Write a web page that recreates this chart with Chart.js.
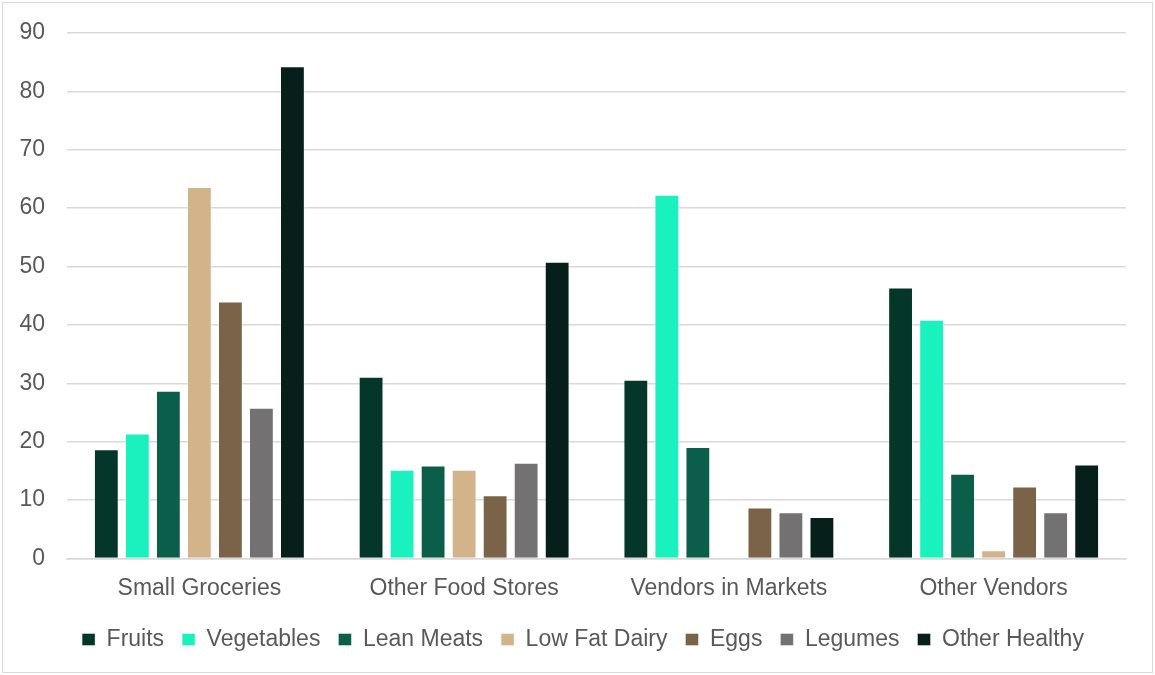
<!DOCTYPE html>
<html>
<head>
<meta charset="utf-8">
<script src="https://cdn.jsdelivr.net/npm/chart.js@4/dist/chart.umd.min.js"></script>
<style>
    html, body { margin: 0; padding: 0; background: #fff; }
    #wrap {
        position: absolute;
        left: 2px;
        top: 2px;
        width: 1151px;
        height: 671px;
        border: 1px solid #d9d9d9;
        box-sizing: border-box;
    }
    #chart { display: block; }
</style>
</head>
<body>
<div id="wrap"><canvas id="chart" width="1149" height="669"></canvas></div>
<script>
// categories and series
const categories = ["Small Groceries", "Other Food Stores", "Vendors in Markets", "Other Vendors"];
const seriesNames = ["Fruits", "Vegetables", "Lean Meats", "Low Fat Dairy", "Eggs", "Legumes", "Other Healthy"];

const fruits = [18.7, 31.1, 30.6, 46.4];
const vegetables = [21.4, 15.2, 62.3, 40.9];
const leanMeats = [28.7, 15.9, 19.1, 14.5];
const lowFatDairy = [63.6, 15.2, 0, 1.4];
const eggs = [44.0, 10.8, 8.7, 12.3];
const legumes = [25.8, 16.4, 7.9, 7.9];
const otherHealthy = [84.3, 50.8, 7.1, 16.1];

const yTicks = [0, 10, 20, 30, 40, 50, 60, 70, 80, 90];

const colors = ["#04362a", "#19f2bf", "#0b5e4a", "#d2b38a", "#7b634a", "#737172", "#061f1b"];
const values = [fruits, vegetables, leanMeats, lowFatDairy, eggs, legumes, otherHealthy];

const FONT = "'Liberation Sans', Arial, sans-serif";
const TEXT = "#595959";

const datasets = seriesNames.map((name, i) => ({
    label: name,
    data: values[i],
    backgroundColor: colors[i],
    borderColor: "rgba(255,255,255,0.4)",
    borderWidth: 1,
    categoryPercentage: 0.82,
    barPercentage: 0.8
}));

// the legend sits a little right of the canvas centre in the picture
const legendShift = {
    id: "legendShift",
    afterLayout(chart) {
        if (!chart.legend) return;
        chart.legend.left += 10;
        chart.legend.right += 10;
    }
};

new Chart(document.getElementById("chart"), {
    type: "bar",
    data: {
        labels: categories,
        datasets: datasets
    },
    plugins: [legendShift],
    options: {
        responsive: false,
        animation: false,
        layout: {
            padding: { top: 0, right: 26, left: 17, bottom: 11 }
        },
        plugins: {
            legend: {
                position: "bottom",
                labels: {
                    color: TEXT,
                    font: { family: FONT, size: 23 },
                    boxWidth: 13,
                    boxHeight: 12,
                    padding: 18
                }
            },
            tooltip: { enabled: false }
        },
        scales: {
            x: {
                grid: { display: false },
                border: { color: "#d9d9d9", width: 1.5 },
                ticks: {
                    color: TEXT,
                    font: { family: FONT, size: 23 },
                    padding: 8
                }
            },
            y: {
                min: 0,
                max: yTicks[yTicks.length - 1],
                afterBuildTicks: axis => {
                    axis.ticks = yTicks.map(v => ({ value: v }));
                },
                // keep the axis band as in the picture; the tick padding
                // would otherwise push the plot top down
                afterFit: axis => {
                    axis.width = 47;
                    axis.paddingTop = 30;
                    axis.paddingBottom = 0;
                },
                grid: {
                    color: "#d9d9d9",
                    lineWidth: 1.5,
                    drawTicks: false
                },
                border: { display: false },
                ticks: {
                    color: TEXT,
                    font: { family: FONT, size: 23 },
                    padding: 22
                }
            }
        }
    }
});
</script>
</body>
</html>
